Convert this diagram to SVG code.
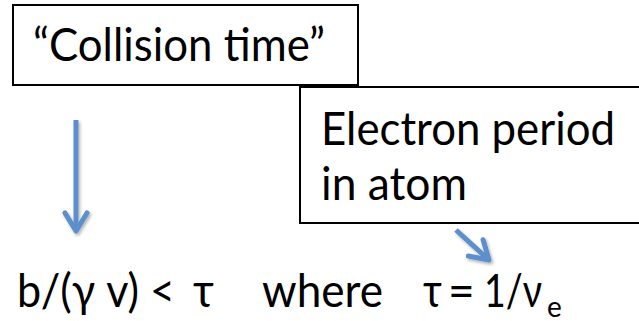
<svg xmlns="http://www.w3.org/2000/svg" width="639" height="321" viewBox="0 0 639 321">
  <style>
    .box { fill: #ffffff; stroke: #000000; stroke-width: 2; }
    .lbl { font-family: Lato, "Open Sans", "Liberation Sans", sans-serif; font-size: 46px; fill: #000000; }
    .sub { font-size: 28px; }
    .shaft { stroke: #5B8FCB; stroke-width: 5; fill: none; }
  </style>
  <defs>
    <filter id="shadow" x="-50%" y="-50%" width="200%" height="200%">
      <feDropShadow dx="1.5" dy="2" stdDeviation="1.5" flood-color="#000000" flood-opacity="0.3"/>
    </filter>
    <marker id="head" markerUnits="userSpaceOnUse" markerWidth="40" markerHeight="40" refX="0" refY="0" viewBox="-25 -20 40 40" orient="auto" overflow="visible">
      <polyline points="-18,-11 0,0 -18,11" fill="none" stroke="#5B8FCB" stroke-width="5" stroke-linejoin="round" stroke-linecap="round"/>
    </marker>
  </defs>

  <g id="collision-time">
    <rect class="box" x="13" y="5" width="345" height="80"/>
    <text class="lbl" x="33" y="61" textLength="292" lengthAdjust="spacingAndGlyphs">“Collision time”</text>
  </g>

  <g id="electron-period">
    <rect class="box" x="300" y="87" width="345" height="136"/>
    <text class="lbl" x="321" y="145" textLength="294" lengthAdjust="spacingAndGlyphs">Electron period</text>
    <text class="lbl" x="321" y="200" textLength="146" lengthAdjust="spacingAndGlyphs">in atom</text>
  </g>

  <g id="connectors" filter="url(#shadow)">
    <path class="shaft" d="M76,120 L76,231" marker-end="url(#head)"/>
    <path class="shaft" d="M456,230 L489,260" marker-end="url(#head)"/>
  </g>

  <g id="formula">
    <text class="lbl" x="17" y="307" textLength="158" lengthAdjust="spacingAndGlyphs">b/(γ v) &lt;</text>
    <text class="lbl" x="193" y="307" textLength="21" lengthAdjust="spacingAndGlyphs">τ</text>
    <text class="lbl" x="262" y="307" textLength="121" lengthAdjust="spacingAndGlyphs">where</text>
    <text class="lbl" x="423" y="307" textLength="19" lengthAdjust="spacingAndGlyphs">τ</text>
    <text class="lbl" x="448" y="307">=</text>
    <text class="lbl" x="484" y="307" textLength="58" lengthAdjust="spacingAndGlyphs">1/ν</text>
    <text class="lbl sub" x="547" y="317">e</text>
  </g>
</svg>
